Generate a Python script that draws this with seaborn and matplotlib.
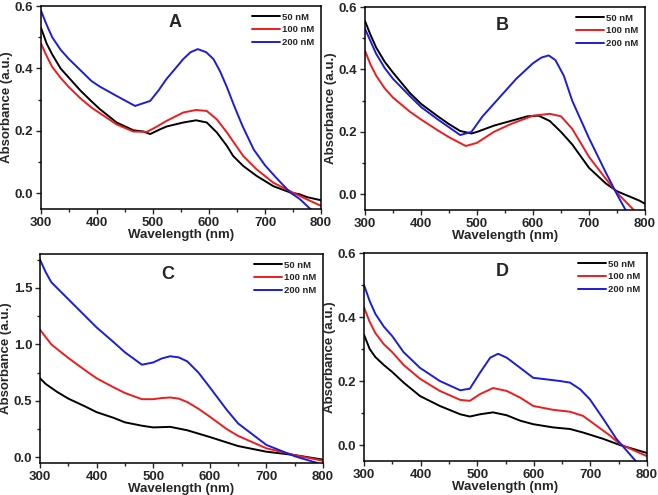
import matplotlib
matplotlib.use("Agg")
import matplotlib.pyplot as plt
import seaborn as sns
import pandas as pd
from matplotlib.ticker import MultipleLocator, AutoMinorLocator

sns.set_theme(style="ticks")
plt.rcParams['font.family'] = ['Liberation Sans', 'DejaVu Sans']
plt.rcParams['font.weight'] = 'bold'

series_labels = ["50 nM", "100 nM", "200 nM"]
series_colors = ["#000000", "#ee1c1c", "#1c1cdd"]

# Panel A
a_black_x = [300, 310, 320, 335, 350, 370, 390, 405, 435, 465, 483, 495, 510, 524, 554, 577, 596, 614, 632, 643, 661, 685, 715, 745, 762, 775, 790, 800]
a_black_y = [0.53, 0.48, 0.445, 0.40, 0.37, 0.33, 0.295, 0.27, 0.227, 0.202, 0.198, 0.19, 0.203, 0.214, 0.227, 0.234, 0.227, 0.195, 0.152, 0.12, 0.088, 0.056, 0.023, 0.003, -0.003, -0.012, -0.018, -0.022]
a_red_x = [300, 310, 320, 335, 350, 370, 390, 405, 435, 465, 489, 505, 524, 554, 577, 596, 614, 632, 661, 685, 715, 745, 770, 800]
a_red_y = [0.48, 0.44, 0.405, 0.37, 0.34, 0.305, 0.275, 0.257, 0.221, 0.198, 0.197, 0.212, 0.232, 0.259, 0.267, 0.264, 0.237, 0.195, 0.12, 0.077, 0.034, 0.007, -0.015, -0.04]
a_blue_x = [300, 310, 320, 335, 350, 370, 390, 405, 435, 468, 495, 510, 524, 540, 554, 567, 580, 595, 608, 620, 632, 645, 660, 680, 700, 720, 745, 762, 790]
a_blue_y = [0.585, 0.54, 0.50, 0.46, 0.43, 0.395, 0.36, 0.342, 0.312, 0.28, 0.296, 0.33, 0.366, 0.40, 0.43, 0.452, 0.462, 0.452, 0.43, 0.39, 0.34, 0.28, 0.215, 0.14, 0.09, 0.05, 0.003, -0.018, -0.065]

# Panel B
b_black_x = [300, 310, 320, 335, 350, 380, 400, 430, 450, 470, 490, 500, 530, 560, 590, 610, 630, 650, 670, 700, 730, 750, 770, 790, 800]
b_black_y = [0.555, 0.51, 0.47, 0.425, 0.39, 0.325, 0.29, 0.25, 0.225, 0.203, 0.195, 0.2, 0.22, 0.235, 0.25, 0.252, 0.235, 0.2, 0.16, 0.085, 0.035, 0.01, -0.005, -0.02, -0.03]
b_red_x = [300, 310, 320, 335, 350, 380, 400, 430, 450, 480, 500, 530, 560, 600, 630, 650, 670, 700, 730, 750, 780]
b_red_y = [0.46, 0.415, 0.38, 0.34, 0.31, 0.265, 0.24, 0.205, 0.183, 0.155, 0.165, 0.2, 0.225, 0.252, 0.258, 0.25, 0.21, 0.12, 0.05, 0.005, -0.05]
b_blue_x = [300, 310, 320, 335, 350, 380, 400, 430, 450, 470, 490, 510, 540, 570, 600, 615, 628, 640, 655, 670, 700, 730, 750, 770]
b_blue_y = [0.53, 0.49, 0.45, 0.405, 0.37, 0.315, 0.28, 0.24, 0.215, 0.19, 0.2, 0.25, 0.31, 0.37, 0.42, 0.438, 0.445, 0.43, 0.38, 0.30, 0.18, 0.07, 0.0, -0.065]

# Panel C
c_black_x = [300, 310, 330, 350, 380, 400, 430, 450, 480, 500, 530, 560, 600, 650, 700, 750, 800]
c_black_y = [0.70, 0.65, 0.58, 0.52, 0.45, 0.40, 0.35, 0.31, 0.28, 0.265, 0.27, 0.24, 0.18, 0.10, 0.05, 0.02, -0.02]
c_red_x = [300, 320, 350, 380, 400, 430, 450, 480, 500, 515, 530, 545, 560, 580, 600, 630, 650, 700, 750, 800]
c_red_y = [1.13, 1.0, 0.88, 0.77, 0.70, 0.62, 0.57, 0.515, 0.515, 0.525, 0.53, 0.52, 0.49, 0.43, 0.36, 0.25, 0.19, 0.08, 0.02, -0.03]
c_blue_x = [300, 310, 320, 350, 380, 400, 430, 450, 480, 500, 515, 530, 545, 560, 580, 600, 630, 650, 700, 750, 790]
c_blue_y = [1.75, 1.64, 1.55, 1.40, 1.25, 1.15, 1.02, 0.93, 0.82, 0.84, 0.875, 0.895, 0.885, 0.85, 0.75, 0.62, 0.42, 0.30, 0.11, 0.01, -0.05]

# Panel D
d_black_x = [300, 310, 320, 335, 350, 370, 399, 434, 470, 487, 505, 528, 552, 576, 599, 634, 664, 687, 723, 752, 800]
d_black_y = [0.345, 0.30, 0.275, 0.25, 0.228, 0.195, 0.153, 0.122, 0.096, 0.089, 0.096, 0.102, 0.093, 0.076, 0.065, 0.055, 0.05, 0.039, 0.019, 0.0, -0.025]
d_red_x = [300, 310, 320, 335, 350, 370, 399, 434, 470, 487, 505, 528, 552, 576, 599, 634, 664, 687, 711, 735, 752, 800]
d_red_y = [0.43, 0.385, 0.35, 0.315, 0.29, 0.25, 0.207, 0.169, 0.141, 0.138, 0.159, 0.178, 0.169, 0.148, 0.122, 0.11, 0.104, 0.091, 0.06, 0.029, 0.003, -0.035]
d_blue_x = [300, 310, 320, 335, 350, 370, 399, 434, 470, 487, 505, 523, 537, 552, 576, 599, 623, 646, 664, 682, 699, 723, 746, 780]
d_blue_y = [0.50, 0.45, 0.41, 0.37, 0.34, 0.29, 0.241, 0.2, 0.171, 0.176, 0.226, 0.273, 0.285, 0.273, 0.241, 0.21, 0.205, 0.2, 0.195, 0.174, 0.143, 0.081, 0.019, -0.05]

panels = [
    ("A", [(a_black_x, a_black_y), (a_red_x, a_red_y), (a_blue_x, a_blue_y)], (-0.05, 0.6), 0.2),
    ("B", [(b_black_x, b_black_y), (b_red_x, b_red_y), (b_blue_x, b_blue_y)], (-0.05, 0.6), 0.2),
    ("C", [(c_black_x, c_black_y), (c_red_x, c_red_y), (c_blue_x, c_blue_y)], (-0.05, 1.8), 0.5),
    ("D", [(d_black_x, d_black_y), (d_red_x, d_red_y), (d_blue_x, d_blue_y)], (-0.05, 0.6), 0.2),
]

W, H = 658, 495
fig = plt.figure(figsize=(W / 100, H / 100), dpi=100)
boxes = [(41, 6, 321, 209), (365, 7, 645, 210), (40, 254, 323, 463), (364, 253, 647, 461)]
letter_pos = [(0.48, 0.92), (0.49, 0.91), (0.45, 0.90), (0.49, 0.91)]

for (name, series, ylim, ystep), (l, t, r, b), lp in zip(panels, boxes, letter_pos):
    ax = fig.add_axes([l / W, 1 - b / H, (r - l) / W, (b - t) / H])
    frames = []
    for lab, (xs, ys) in zip(series_labels, series):
        frames.append(pd.DataFrame({"Wavelength": xs, "Absorbance": ys, "Conc": lab}))
    df = pd.concat(frames, ignore_index=True)
    sns.lineplot(data=df, x="Wavelength", y="Absorbance", hue="Conc",
                 hue_order=series_labels, palette=series_colors, ax=ax,
                 estimator=None, sort=False, linewidth=1.4)
    ax.set_xlim(300, 800)
    ax.set_ylim(*ylim)
    ax.xaxis.set_major_locator(MultipleLocator(100))
    ax.yaxis.set_major_locator(MultipleLocator(ystep))
    ax.xaxis.set_minor_locator(AutoMinorLocator(2))
    ax.yaxis.set_minor_locator(AutoMinorLocator(2))
    ax.tick_params(which="major", direction="out", length=3.5, width=1, labelsize=9.5, pad=2)
    ax.tick_params(which="minor", direction="out", length=2, width=1)
    for lbl in ax.get_xticklabels() + ax.get_yticklabels():
        lbl.set_fontweight("bold")
    for sp in ax.spines.values():
        sp.set_visible(True)
        sp.set_linewidth(1.1)
        sp.set_color("black")
    ax.set_xlabel("Wavelength (nm)", fontsize=9.5, fontweight="bold", labelpad=0)
    ax.set_ylabel("Absorbance (a.u.)", fontsize=9.5, fontweight="bold", labelpad=1)
    ax.text(lp[0], lp[1], name, transform=ax.transAxes, fontsize=13,
            fontweight="bold", ha="center", va="center")
    leg = ax.legend(loc="upper right", frameon=False, fontsize=6.8,
                    handlelength=3.0, handletextpad=0.2, labelspacing=0.4,
                    borderaxespad=0.3, title=None)
    for txt in leg.get_texts():
        txt.set_fontweight("bold")

fig.savefig("out.png", dpi=100)
